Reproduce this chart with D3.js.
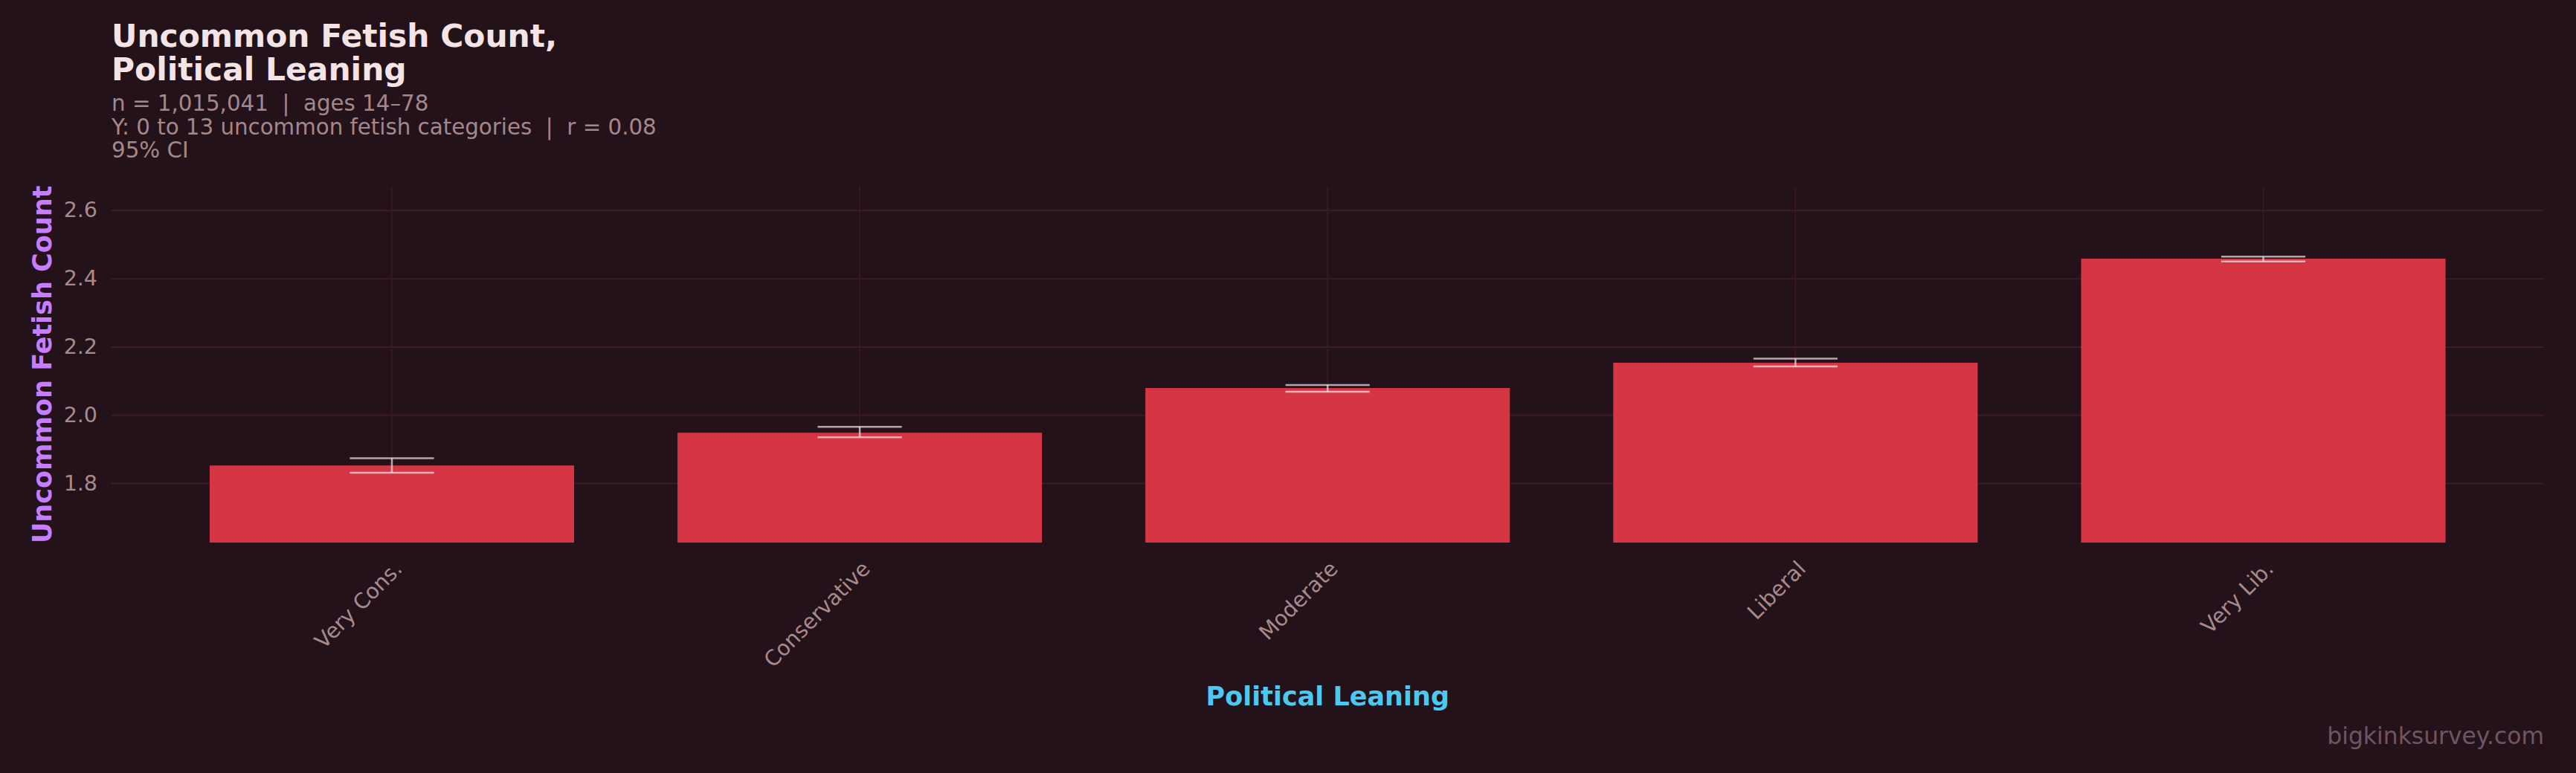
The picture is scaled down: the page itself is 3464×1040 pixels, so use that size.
<!DOCTYPE html>
<html>
<head>
<meta charset="utf-8">
<script src="https://cdn.jsdelivr.net/npm/d3@7"></script>
<style>
  body { margin: 0; background: #231219; }
  svg text { font-family: "DejaVu Sans", sans-serif; }
</style>
</head>
<body>
<div id="chart"></div>
<script>
const categories = ["Very Cons.", "Conservative", "Moderate", "Liberal", "Very Lib."];
const means = [1.852, 1.948, 2.079, 2.153, 2.458];
const ciLow = [1.831, 1.935, 2.068, 2.142, 2.450];
const ciHigh = [1.873, 1.965, 2.088, 2.165, 2.464];
const yTicks = [1.8, 2.0, 2.2, 2.4, 2.6];
const yDomain = [1.626, 2.67];

const titleLines = ["Uncommon Fetish Count,", "Political Leaning"];
const subLines = [
    "n = 1,015,041  |  ages 14\u201378",
    "Y: 0 to 13 uncommon fetish categories  |  r = 0.08",
    "95% CI"
];

const w = 3464;
const h = 1040;
const plot = { left: 149.5, right: 3421, top: 250.7, bottom: 730 };

const svg = d3.select("#chart").append("svg")
    .attr("width", w)
    .attr("height", h)
    .style("display", "block")
    .style("background", "#231219");

const data = categories.map((c, i) => ({ cat: c, mean: means[i], lo: ciLow[i], hi: ciHigh[i] }));

const x = d3.scalePoint()
    .domain(categories)
    .range([plot.left, plot.right])
    .padding(0.6);

const y = d3.scaleLinear()
    .domain(yDomain)
    .range([plot.bottom, plot.top]);

const barW = x.step() * 0.779;
const capW = x.step() * 0.18;

// horizontal grid
const yGrid = svg.append("g")
    .attr("transform", `translate(${plot.left},0)`)
    .call(d3.axisLeft(y).tickValues(yTicks).tickSize(-(plot.right - plot.left)).tickFormat(""));
yGrid.select(".domain").remove();
yGrid.selectAll("line").attr("stroke", "#3d1b26").attr("stroke-width", 2);

// vertical grid at category centres
svg.append("g")
    .selectAll("line")
    .data(categories)
    .join("line")
    .attr("x1", d => x(d))
    .attr("x2", d => x(d))
    .attr("y1", plot.top)
    .attr("y2", plot.bottom)
    .attr("stroke", "#3b1a25")
    .attr("stroke-width", 1.6);

// bars
svg.append("g")
    .selectAll("rect")
    .data(data)
    .join("rect")
    .attr("x", d => x(d.cat) - barW / 2)
    .attr("y", d => y(d.mean))
    .attr("width", barW)
    .attr("height", d => y(yDomain[0]) - y(d.mean))
    .attr("fill", "#d63544");

// error bars
const err = svg.append("g")
    .attr("stroke", "rgba(240,230,232,0.7)")
    .attr("stroke-width", 2.5)
    .selectAll("g")
    .data(data)
    .join("g");
err.append("line")
    .attr("x1", d => x(d.cat)).attr("x2", d => x(d.cat))
    .attr("y1", d => y(d.hi)).attr("y2", d => y(d.lo));
err.append("line")
    .attr("x1", d => x(d.cat) - capW / 2).attr("x2", d => x(d.cat) + capW / 2)
    .attr("y1", d => y(d.hi)).attr("y2", d => y(d.hi));
err.append("line")
    .attr("x1", d => x(d.cat) - capW / 2).attr("x2", d => x(d.cat) + capW / 2)
    .attr("y1", d => y(d.lo)).attr("y2", d => y(d.lo));

// y axis labels
const yAxis = svg.append("g")
    .attr("transform", `translate(131,0)`)
    .call(d3.axisLeft(y).tickValues(yTicks).tickSize(0).tickPadding(0).tickFormat(d3.format(".1f")));
yAxis.select(".domain").remove();
yAxis.selectAll("text")
    .attr("fill", "#a88a8c")
    .style("font-size", "28.5px")
    .style("font-family", "DejaVu Sans");

// x axis labels
const xAxis = svg.append("g")
    .attr("transform", `translate(0,${plot.bottom})`)
    .call(d3.axisBottom(x).tickSize(0).tickPadding(0));
xAxis.select(".domain").remove();
xAxis.selectAll("text")
    .attr("fill", "#a88a8c")
    .attr("text-anchor", "end")
    .attr("dy", 0)
    .attr("y", 0)
    .attr("transform", "translate(15,37) rotate(-45)")
    .style("font-size", "28.5px")
    .style("font-family", "DejaVu Sans");

// axis titles
svg.append("text")
    .attr("transform", `translate(69,${(plot.top + plot.bottom) / 2}) rotate(-90)`)
    .attr("text-anchor", "middle")
    .attr("fill", "#c77dff")
    .style("font-size", "35px")
    .style("font-weight", "bold")
    .text("Uncommon Fetish Count");

svg.append("text")
    .attr("x", (plot.left + plot.right) / 2)
    .attr("y", 949)
    .attr("text-anchor", "middle")
    .attr("fill", "#4cc9f0")
    .style("font-size", "35px")
    .style("font-weight", "bold")
    .text("Political Leaning");

// title block
svg.append("g")
    .selectAll("text")
    .data(titleLines)
    .join("text")
    .attr("x", 150)
    .attr("y", (d, i) => 62.7 + i * 45.6)
    .attr("fill", "#f5e4e6")
    .style("font-size", "42.4px")
    .style("font-weight", "bold")
    .text(d => d);

svg.append("g")
    .selectAll("text")
    .data(subLines)
    .join("text")
    .attr("x", 150)
    .attr("y", (d, i) => 149 + i * 31.6)
    .attr("fill", "#a4878b")
    .style("font-size", "29.3px")
    .style("white-space", "pre")
    .text(d => d);

// watermark
svg.append("text")
    .attr("x", plot.right)
    .attr("y", 1001)
    .attr("text-anchor", "end")
    .attr("fill", "#6f5561")
    .style("font-size", "31.4px")
    .text("bigkinksurvey.com");
</script>
</body>
</html>
